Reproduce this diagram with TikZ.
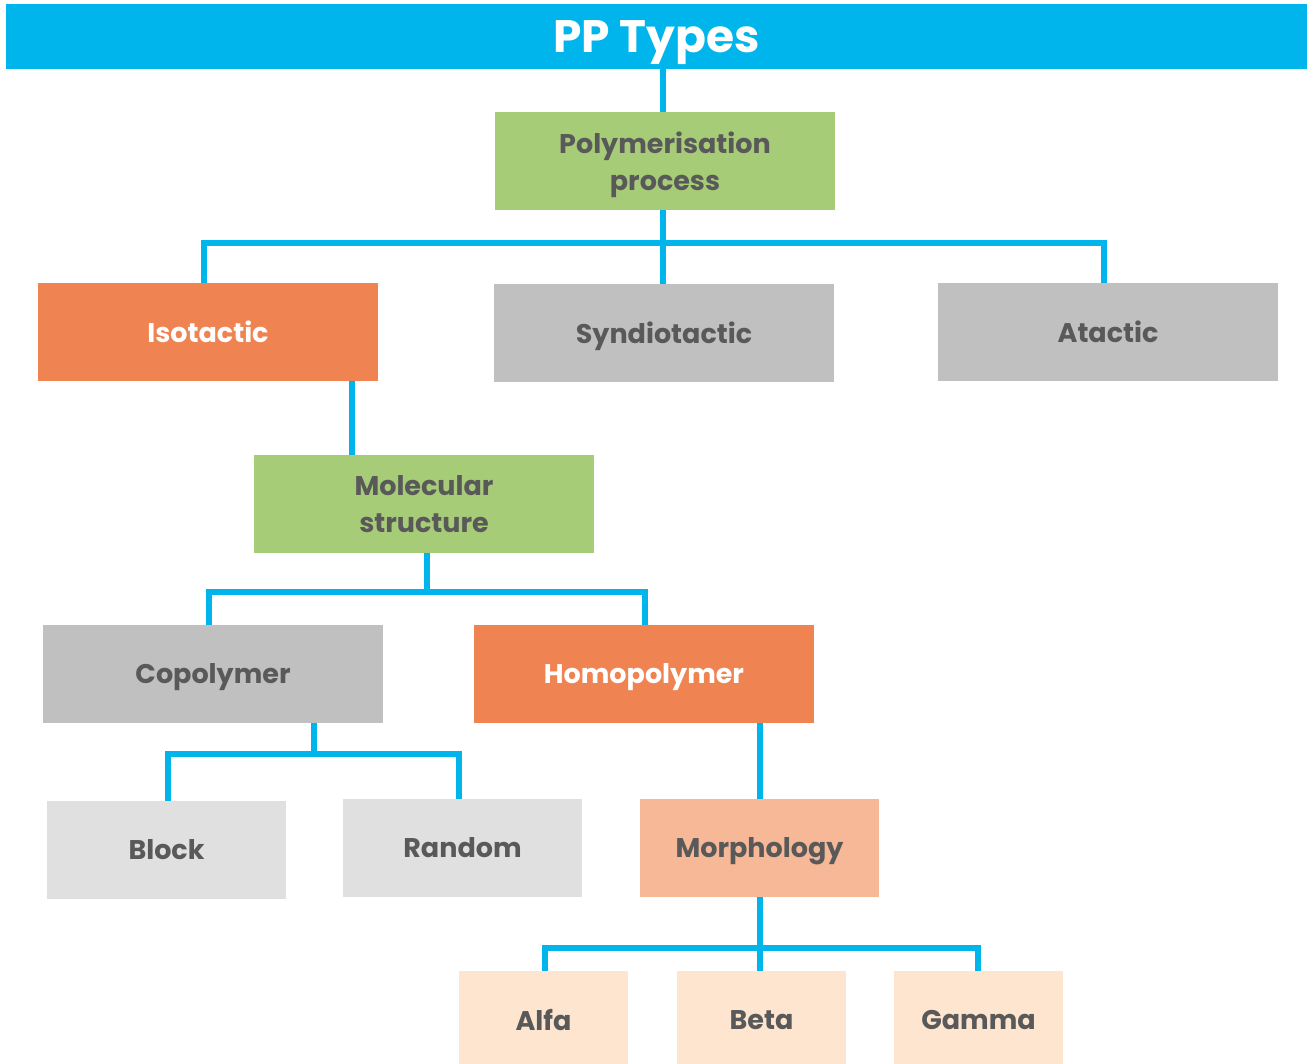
\documentclass[tikz,border=0pt]{standalone}
\usepackage{fontspec}
\setmainfont{Poppins}
\definecolor{hdrblue}{RGB}{0,181,236}
\definecolor{lgreen}{RGB}{166,204,120}
\definecolor{orng}{RGB}{240,131,82}
\definecolor{gry}{RGB}{192,192,192}
\definecolor{lgry}{RGB}{224,224,224}
\definecolor{salmon}{RGB}{246,184,151}
\definecolor{peach}{RGB}{253,229,207}
\definecolor{txt}{RGB}{89,89,89}
\begin{document}
\begin{tikzpicture}[x=1pt,y=-1pt,
  box/.style={rectangle, inner sep=0pt, minimum width=340pt, minimum height=98pt, align=center,
    text depth=0pt, font=\fontsize{27}{37}\selectfont\bfseries, text=txt},
  sbox/.style={box, minimum width=239pt},
  tbox/.style={box, minimum width=169pt},
  conn/.style={draw=hdrblue, line width=6pt, line join=miter, line cap=butt}]
\useasboundingbox (0,0) rectangle (1307,1064);
\node[fill=hdrblue, rectangle, inner sep=0pt, minimum width=1301pt, minimum height=65pt,
  text depth=0pt, text=white, font=\fontsize{45.5}{50}\selectfont\bfseries] (hdr) at (656.5,36.5) {PP Types};
\node[box, fill=lgreen] (poly) at (665,161) {Polymerisation\\process};
\node[box, fill=orng, text=white] (iso) at (208,332) {Isotactic};
\node[box, fill=gry] (syn) at (664,333) {Syndiotactic};
\node[box, fill=gry] (ata) at (1108,332) {Atactic};
\node[box, fill=lgreen] (mol) at (424,504) {Molecular\\structure};
\node[box, fill=gry] (cop) at (213,674) {Copolymer};
\node[box, fill=orng, text=white] (hom) at (644,674) {Homopolymer};
\node[sbox, fill=lgry] (blk) at (166.5,850) {Block};
\node[sbox, fill=lgry] (rnd) at (462.5,848) {Random};
\node[sbox, fill=salmon] (mor) at (759.5,848) {Morphology};
\node[tbox, fill=peach] (alf) at (543.5,1020) {Alfa};
\node[tbox, fill=peach] (bet) at (761.5,1020) {Beta};
\node[tbox, fill=peach] (gam) at (978.5,1020) {Gamma};
% coordinates
\coordinate (p1) at (663,0);
\coordinate (b1) at (663,243);
\coordinate (i1) at (204,0);
\coordinate (a1) at (1104,0);
\coordinate (m1) at (352,0);
\coordinate (m2) at (427,592);
\coordinate (c1) at (209,0);
\coordinate (h1) at (645,0);
\coordinate (c2) at (314,754);
\coordinate (k1) at (168,0);
\coordinate (r1) at (459,0);
\coordinate (h2) at (760,0);
\coordinate (g2) at (760,948);
\coordinate (x1) at (545,0);
\coordinate (x3) at (978,0);
% connectors
\draw[conn] (p1 |- hdr.south) -- (p1 |- poly.north);
\draw[conn] (p1 |- poly.south) -- (p1 |- syn.north);
\draw[conn] (i1 |- iso.north) -- (i1 |- b1) -- (a1 |- b1) -- (a1 |- ata.north);
\draw[conn] (m1 |- iso.south) -- (m1 |- mol.north);
\draw[conn] (m2 |- mol.south) -- (m2);
\draw[conn] (c1 |- cop.north) -- (c1 |- m2) -- (h1 |- m2) -- (h1 |- hom.north);
\draw[conn] (c2 |- cop.south) -- (c2);
\draw[conn] (k1 |- blk.north) -- (k1 |- c2) -- (r1 |- c2) -- (r1 |- rnd.north);
\draw[conn] (h2 |- hom.south) -- (h2 |- mor.north);
\draw[conn] (g2 |- mor.south) -- (g2 |- bet.north);
\draw[conn] (x1 |- alf.north) -- (x1 |- g2) -- (x3 |- g2) -- (x3 |- gam.north);
\end{tikzpicture}
\end{document}
